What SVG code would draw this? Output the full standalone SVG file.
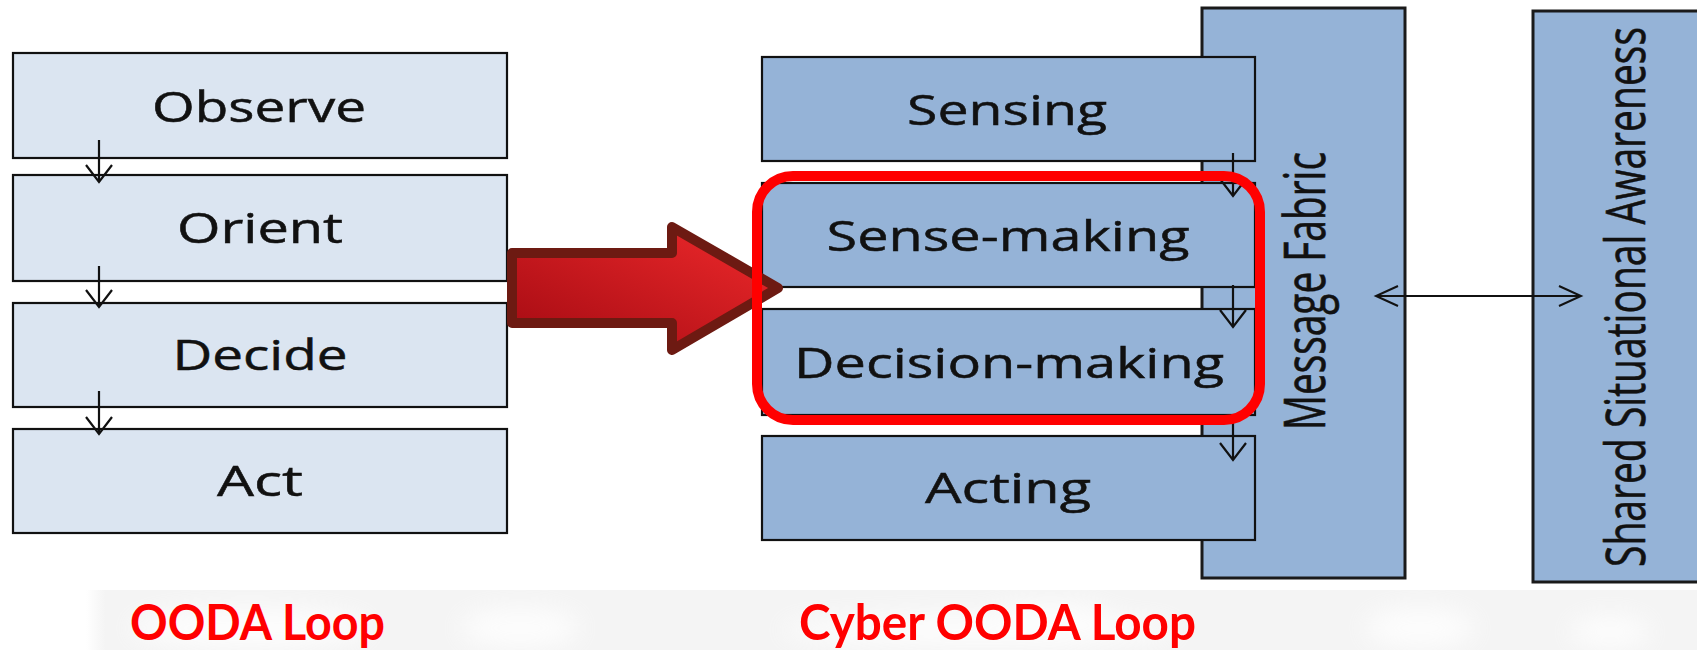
<svg xmlns="http://www.w3.org/2000/svg" width="1697" height="650" viewBox="0 0 1697 650">
  <defs>
    <style>
      .light { fill: #dbe5f1; stroke: #111; stroke-width: 2.2; }
      .blue { fill: #95b3d7; stroke: #111; stroke-width: 2.2; }
      .col { fill: #95b3d7; stroke: #1a1a1a; stroke-width: 3; }
      .lbl { font-family: "Open Sans", "Noto Sans", sans-serif; font-size: 42px; fill: #111; stroke: #111; stroke-width: 0.5; text-anchor: middle; }
      .vlbl { font-family: "Open Sans", "Noto Sans", sans-serif; fill: #111; stroke: #111; stroke-width: 0.6; text-anchor: middle; }
      .cap { font-family: "Lato", "Liberation Sans", sans-serif; font-weight: bold; font-size: 49px; fill: #ff0000; }
      .flow { stroke: #111; stroke-width: 2.2; fill: none; }
    </style>
    <linearGradient id="arrowFill" x1="0" y1="1" x2="1" y2="0">
      <stop offset="0" stop-color="#a30a12"/>
      <stop offset="1" stop-color="#f02a2c"/>
    </linearGradient>
    <marker id="head" viewBox="-20 -14 24 28" markerWidth="24" markerHeight="28" refX="0" refY="0" orient="auto" markerUnits="userSpaceOnUse">
      <path d="M-17,-13 L0,0 L-17,13" fill="none" stroke="#111" stroke-width="2.2"/>
    </marker>
    <marker id="headS" viewBox="-24 -12 28 24" markerWidth="28" markerHeight="24" refX="0" refY="0" orient="auto-start-reverse" markerUnits="userSpaceOnUse">
      <path d="M-22,-10 L0,0 L-22,10" fill="none" stroke="#111" stroke-width="2"/>
    </marker>
    <filter id="soft" x="-20%" y="-80%" width="140%" height="260%">
      <feGaussianBlur stdDeviation="12"/>
    </filter>
    <linearGradient id="bandEdge" x1="0" y1="0" x2="1" y2="0">
      <stop offset="0" stop-color="#f4f4f4" stop-opacity="0"/>
      <stop offset="0.012" stop-color="#f4f4f4" stop-opacity="1"/>
      <stop offset="1" stop-color="#f4f4f4" stop-opacity="1"/>
    </linearGradient>
  </defs>

  <rect width="1697" height="650" fill="#ffffff"/>

  <!-- faint band under the captions -->
  <g id="caption-band">
    <rect x="86" y="590" width="1611" height="60" fill="url(#bandEdge)"/>
    <g filter="url(#soft)" fill="#ffffff" opacity="0.8">
      <ellipse cx="520" cy="628" rx="60" ry="20"/>
      <ellipse cx="1050" cy="625" rx="70" ry="22"/>
      <ellipse cx="1420" cy="628" rx="55" ry="20"/>
      <ellipse cx="250" cy="628" rx="120" ry="20"/>
      <ellipse cx="980" cy="630" rx="200" ry="16"/>
      <ellipse cx="1610" cy="632" rx="40" ry="16"/>
    </g>
  </g>

  <!-- OODA loop -->
  <g id="observe">
    <rect class="light" x="13" y="53" width="494" height="105"/>
    <text class="lbl" x="259" y="122" textLength="214" lengthAdjust="spacingAndGlyphs">Observe</text>
  </g>
  <g id="orient">
    <rect class="light" x="13" y="175" width="494" height="106"/>
    <text class="lbl" x="260" y="243" textLength="166" lengthAdjust="spacingAndGlyphs">Orient</text>
  </g>
  <g id="decide">
    <rect class="light" x="13" y="303" width="494" height="104"/>
    <text class="lbl" x="260" y="370" textLength="175" lengthAdjust="spacingAndGlyphs">Decide</text>
  </g>
  <g id="act">
    <rect class="light" x="13" y="429" width="494" height="104"/>
    <text class="lbl" x="260" y="496" textLength="86" lengthAdjust="spacingAndGlyphs">Act</text>
  </g>

  <!-- Cyber OODA loop -->
  <g id="message-fabric">
    <rect class="col" x="1202" y="8" width="203" height="570"/>
    <text class="vlbl" transform="translate(1325,291) rotate(-90)" font-size="57" textLength="278" lengthAdjust="spacingAndGlyphs">Message Fabric</text>
  </g>
  <g id="shared-awareness">
    <rect class="col" x="1533" y="11" width="170" height="571"/>
    <text class="vlbl" transform="translate(1645,297) rotate(-90)" font-size="55" textLength="540" lengthAdjust="spacingAndGlyphs">Shared Situational Awareness</text>
  </g>
  <g id="sensing">
    <rect class="blue" x="762" y="57" width="493" height="104"/>
    <text class="lbl" x="1007" y="125" textLength="200" lengthAdjust="spacingAndGlyphs">Sensing</text>
  </g>
  <g id="sense-making">
    <rect class="blue" x="762" y="183" width="493" height="104"/>
    <text class="lbl" x="1008" y="251" textLength="363" lengthAdjust="spacingAndGlyphs">Sense-making</text>
  </g>
  <g id="decision-making">
    <rect class="blue" x="762" y="309" width="493" height="106"/>
    <text class="lbl" x="1009" y="378" textLength="430" lengthAdjust="spacingAndGlyphs">Decision-making</text>
  </g>
  <g id="acting">
    <rect class="blue" x="762" y="436" width="493" height="104"/>
    <text class="lbl" x="1008" y="503" textLength="166" lengthAdjust="spacingAndGlyphs">Acting</text>
  </g>

  <!-- big transition arrow -->
  <g id="transition-arrow">
    <path d="M512,253 L672,253 L672,227 L778,288 L672,350 L672,323 L512,323 Z" fill="url(#arrowFill)" stroke="#6d1a12" stroke-width="10" stroke-linejoin="round"/>
  </g>

  <g id="connectors">
    <path class="flow" d="M99,140 V182" marker-end="url(#head)"/>
    <path class="flow" d="M99,266 V307" marker-end="url(#head)"/>
    <path class="flow" d="M99,391 V434" marker-end="url(#head)"/>
    <path class="flow" d="M1233,153 V196" marker-end="url(#head)"/>
    <path class="flow" d="M1233,285 V327" marker-end="url(#head)"/>
    <path class="flow" d="M1233,417 V460" marker-end="url(#head)"/>
    <path class="flow" d="M1376,296 H1581" stroke-width="2" marker-start="url(#headS)" marker-end="url(#headS)"/>
  </g>

  <!-- highlight around sense-making and decision-making -->
  <g id="highlight">
    <rect x="757" y="176" width="503" height="244" rx="36" ry="36" fill="none" stroke="#ff0000" stroke-width="10"/>
  </g>

  <g id="captions">
    <text class="cap" x="130" y="640" textLength="255" lengthAdjust="spacingAndGlyphs">OODA Loop</text>
    <text class="cap" x="799" y="640" textLength="397" lengthAdjust="spacingAndGlyphs">Cyber OODA Loop</text>
  </g>
</svg>
